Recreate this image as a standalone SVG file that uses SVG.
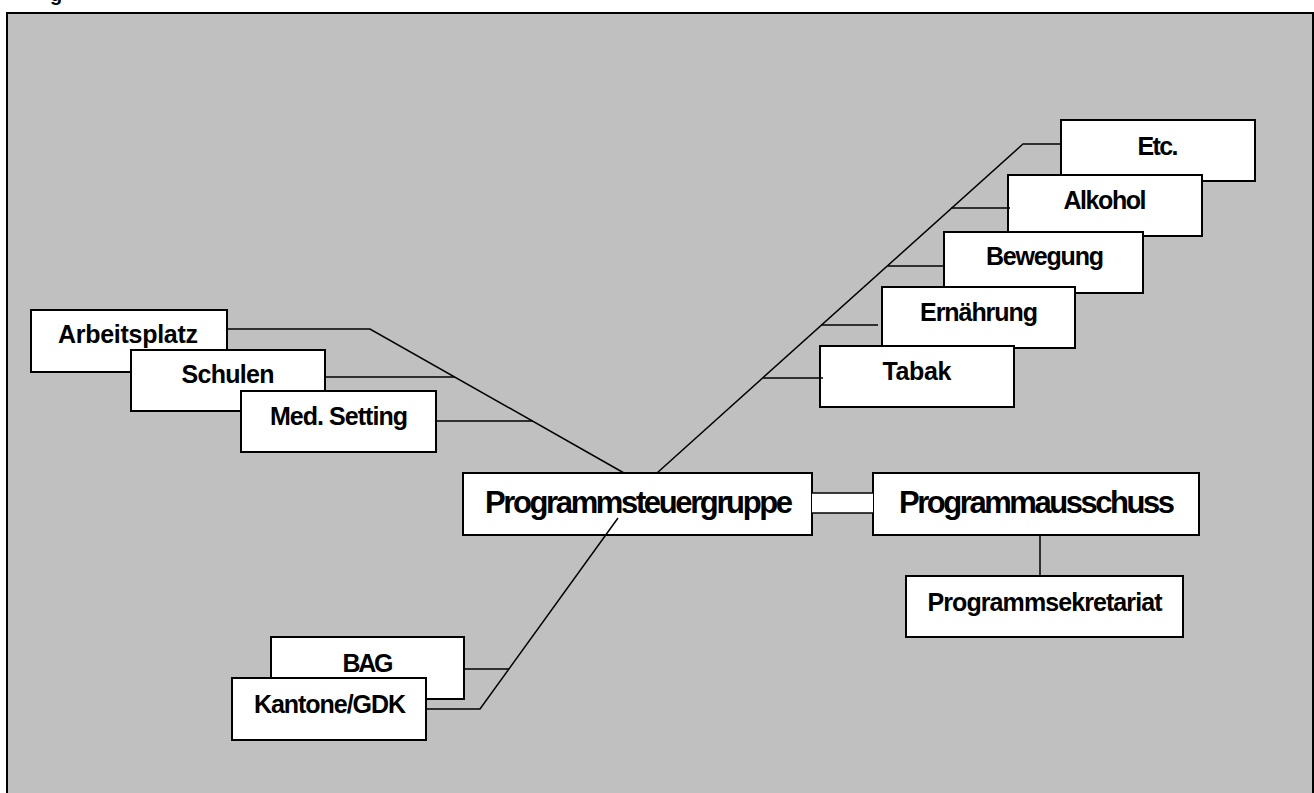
<svg xmlns="http://www.w3.org/2000/svg" width="1314" height="793" viewBox="0 0 1314 793">
<style>
.box{fill:#fff;stroke:#000;stroke-width:2}
.t{font-family:"Liberation Sans",Arial,sans-serif;font-weight:bold;font-size:25px;fill:#000;text-anchor:middle}
.big{font-size:31px}
.ln{fill:none;stroke:#000;stroke-width:1.5}
</style>
<rect x="0" y="0" width="1314" height="793" fill="#fff"/>
<text x="56" y="1" style="font-family:'Liberation Sans',Arial,sans-serif;font-weight:bold;font-size:20px" text-anchor="middle">g</text>
<rect x="7" y="13" width="1306" height="800" fill="#C0C0C0" stroke="#000" stroke-width="2"/>

<g id="arbeitsplatz"><rect class="box" x="31" y="310" width="196" height="62"/><text class="t" x="128" y="343" textLength="140">Arbeitsplatz</text></g>
<g id="schulen"><rect class="box" x="131" y="350" width="194" height="61"/><text class="t" x="228" y="383" textLength="93">Schulen</text></g>
<g id="med-setting"><rect class="box" x="241" y="391" width="195" height="61"/><text class="t" x="339" y="425" textLength="138">Med. Setting</text></g>

<g id="etc"><rect class="box" x="1061" y="120" width="194" height="61"/><text class="t" x="1158" y="155" textLength="41">Etc.</text></g>
<g id="alkohol"><rect class="box" x="1008" y="175" width="194" height="61"/><text class="t" x="1105" y="209" textLength="83">Alkohol</text></g>
<g id="bewegung"><rect class="box" x="944" y="232" width="199" height="61"/><text class="t" x="1045" y="265" textLength="118">Bewegung</text></g>
<g id="ernaehrung"><rect class="box" x="882" y="287" width="193" height="61"/><text class="t" x="979" y="321" textLength="118">Ernährung</text></g>
<g id="tabak"><rect class="box" x="820" y="346" width="194" height="61"/><text class="t" x="917" y="380" textLength="69">Tabak</text></g>

<g id="programmsteuergruppe"><rect class="box" x="463" y="473" width="349" height="62"/><text class="t big" x="639" y="513" textLength="308">Programmsteuergruppe</text></g>
<g id="programmausschuss"><rect class="box" x="873" y="473" width="326" height="62"/><text class="t big" x="1037" y="513" textLength="276">Programmausschuss</text></g>
<g id="programmsekretariat"><rect class="box" x="906" y="576" width="277" height="61"/><text class="t" x="1045" y="611" textLength="235">Programmsekretariat</text></g>

<g id="bag"><rect class="box" x="271" y="637" width="193" height="62"/><text class="t" x="368" y="672" textLength="51">BAG</text></g>
<g id="kantone-gdk"><rect class="box" x="232" y="678" width="194" height="62"/><text class="t" x="330" y="713" textLength="152">Kantone/GDK</text></g>

<g id="connectors">
<polyline class="ln" points="227,329 370,329 624,473"/>
<line class="ln" x1="325" y1="377" x2="455" y2="377"/>
<line class="ln" x1="436" y1="421" x2="533" y2="421"/>
<polyline class="ln" points="657,473 1023,144 1061,144"/>
<line class="ln" x1="951" y1="208" x2="1010" y2="208"/>
<line class="ln" x1="888" y1="266" x2="944" y2="266"/>
<line class="ln" x1="822" y1="325" x2="878" y2="325"/>
<line class="ln" x1="763" y1="378" x2="823" y2="378"/>
<polyline class="ln" points="618,518 480,709 426,709"/>
<line class="ln" x1="464" y1="669" x2="509" y2="669"/>
<rect x="812" y="493" width="61" height="20" fill="#fff"/>
<line class="ln" x1="812" y1="493" x2="873" y2="493"/>
<line class="ln" x1="812" y1="513" x2="873" y2="513"/>
<line class="ln" x1="1040" y1="535" x2="1040" y2="576"/>
</g>
</svg>
